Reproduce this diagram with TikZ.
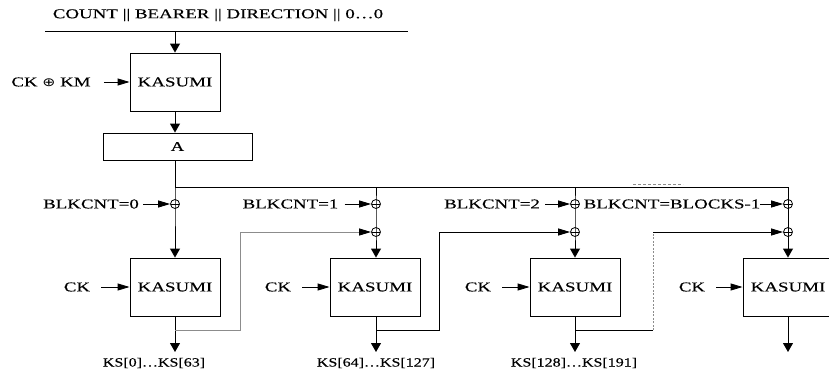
\documentclass[tikz,border=0pt]{standalone}
\usepackage{fontspec}
\setmainfont[FakeStretch=1.4,FakeBold=0.3]{Liberation Serif}
\newfontfamily\ksfont[FakeStretch=1.28,FakeBold=0.3]{Liberation Serif}
\newfontfamily\symfont[FakeStretch=1.3]{DejaVu Sans}
\usetikzlibrary{arrows.meta}
\begin{document}
\begin{tikzpicture}[x=1pt,y=-1pt,
  txt/.style={inner sep=0pt, font=\fontsize{13.5}{15}\selectfont},
  kstxt/.style={inner sep=0pt, font=\ksfont\fontsize{12.5}{15}\selectfont},
  box/.style={txt, draw, line width=0.9pt, minimum width=90pt, minimum height=58pt},
  xor/.style={draw, line width=0.8pt, circle, minimum size=9pt, inner sep=0pt,
    path picture={\draw[line width=0.8pt] (path picture bounding box.west)--(path picture bounding box.east);}},
  ln/.style={line width=0.9pt},
  harr/.style={ln, -{Triangle[length=12pt,width=7pt]}},
  varr/.style={ln, -{Triangle[length=9pt,width=10pt]}},
  fbgray/.style={ln, draw=black!45},
]
\useasboundingbox (0,0) rectangle (829,372);

% title and top line
\node[txt] (title) at (218,15) {COUNT || BEARER || DIRECTION || 0\ldots0};
\coordinate (tl) at (45,31);
\coordinate (tr) at (408,31);
\draw[ln] (tl) -- (tr);

% first KASUMI and A
\node[box] (k0) at (175,82) {KASUMI};
\node[txt] (ckkm) at (51,82) {CK {\symfont\fontsize{12}{13}\selectfont ⊕} KM};
\node[box, minimum width=149pt, minimum height=27pt] (A) at (177.5,146.5) {A};
\draw[varr] (k0.north |- tl) -- (k0.north);
\draw[harr, shorten <=13pt] (ckkm.east) -- (k0.west);
\draw[varr] (k0.south) -- (k0.south |- A.north);

% distribution line
\coordinate (j1) at (175,187);
\coordinate (j2) at (376,187);
\coordinate (j3) at (575,187);
\coordinate (j4) at (788,187);
\draw[ln] (k0.south |- A.south) -- (j1);
\draw[ln] (j1) -- (j4);
\coordinate (d1) at (633,184.5);
\coordinate (d2) at (683,184.5);
\draw[line width=0.8pt, draw=black!45, dash pattern=on 3pt off 2pt] (d1) -- (d2);

% XORs
\node[xor] (xa1) at (175,204) {};
\node[xor] (xa2) at (376,204) {};
\node[xor] (xa3) at (575,204) {};
\node[xor] (xa4) at (788,204) {};
\node[xor] (xb2) at (376,232) {};
\node[xor] (xb3) at (575,232) {};
\node[xor] (xb4) at (788,232) {};

% KASUMI row
\node[box] (k1) at (175,287) {KASUMI};
\node[box] (k2) at (375,287) {KASUMI};
\node[box] (k3) at (575,287) {KASUMI};
\node[box] (k4) at (788,287) {KASUMI};

% verticals
\draw[varr] (j1) -- (xa1.center) -- (k1.north);
\draw[varr] (j2) -- (xa2.center) -- (xb2.center) -- (xb2.center |- k2.north);
\draw[varr] (j3) -- (xa3.center) -- (xb3.center) -- (k3.north);
\draw[varr] (j4) -- (xa4.center) -- (xb4.center) -- (k4.north);

% BLKCNT labels
\node[txt] (b1) at (91,204) {BLKCNT=0};
\node[txt] (b2) at (290.5,204) {BLKCNT=1};
\node[txt] (b3) at (492,204) {BLKCNT=2};
\node[txt] (b4) at (672,204) {BLKCNT=BLOCKS-1};
\draw[harr, shorten <=4pt] (b1.east) -- (xa1.west);
\draw[harr, shorten <=6pt] (b2.east) -- (xa2.west);
\draw[harr, shorten <=5pt] (b3.east) -- (xa3.west);
\draw[harr, shorten <=0pt] (b4.east) -- (xa4.west);

% CK labels
\node[txt] (ck1) at (77,287) {CK};
\node[txt] (ck2) at (278,287) {CK};
\node[txt] (ck3) at (478,287) {CK};
\node[txt] (ck4) at (692,287) {CK};
\draw[harr, shorten <=11pt] (ck1.east) -- (k1.west);
\draw[harr, shorten <=11pt] (ck2.east) -- (k2.west);
\draw[harr, shorten <=11pt] (ck3.east) -- (k3.west);
\draw[harr, shorten <=11pt] (ck4.east) -- (k4.west);

% outputs
\coordinate (o1) at (175,352);
\coordinate (o2) at (376,352);
\coordinate (o3) at (575,352);
\coordinate (o4) at (788,352);
\draw[varr] (k1.south) -- (o1);
\draw[varr] (k2.south -| o2) -- (o2);
\draw[varr] (k3.south) -- (o3);
\draw[varr] (k4.south) -- (o4);
\node[kstxt] (ks1) at (154,363) {KS[0]\ldots KS[63]};
\node[kstxt] (ks2) at (376,363) {KS[64]\ldots KS[127]};
\node[kstxt] (ks3) at (574,363) {KS[128]\ldots KS[191]};

% feedback
\coordinate (f1) at (175,330);
\coordinate (f2) at (376,330);
\coordinate (f3) at (575,330);
\coordinate (g1) at (240,330);
\coordinate (g2) at (439,330);
\coordinate (g3) at (653,330);
\coordinate (h3) at (653,232);
\draw[fbgray, -{Triangle[length=12pt,width=7pt,color=black,fill=black]}] (f1) -- (g1) |- (xb2.west);
\draw[harr] (f2) -- (g2) |- (xb3.west);
\draw[ln] (f3) -- (g3);
\draw[line width=0.9pt, draw=black!45, dash pattern=on 2pt off 1.5pt] (g3) -- (h3);
\draw[harr] (h3) -- (xb4.west);
\end{tikzpicture}
\end{document}
